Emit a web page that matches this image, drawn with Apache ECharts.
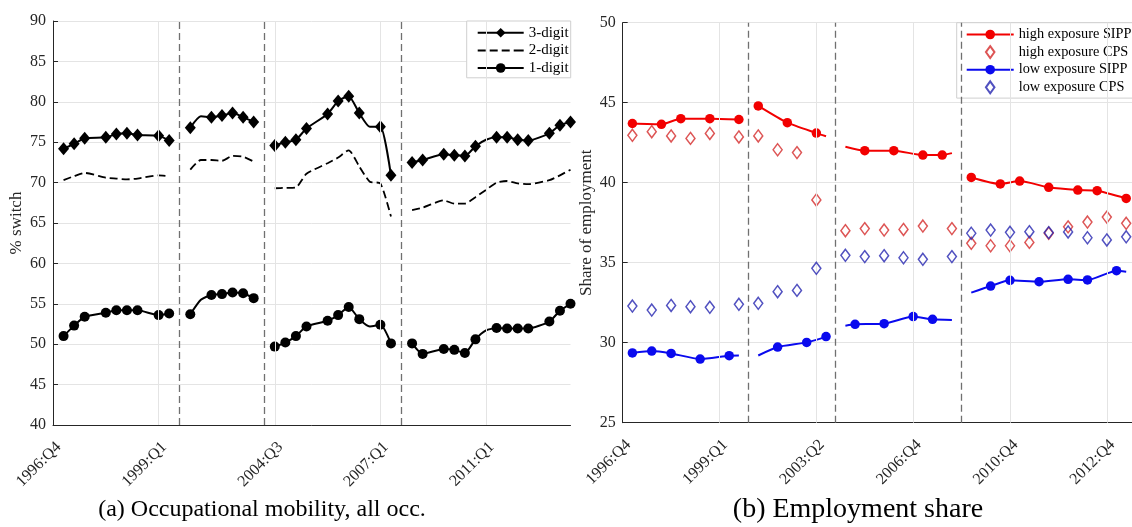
<!DOCTYPE html>
<html>
<head>
<meta charset="utf-8">
<script src="https://cdn.jsdelivr.net/npm/echarts@6/dist/echarts.min.js"></script>
<style>
  html, body { margin: 0; padding: 0; background: #ffffff; }
  #chart { width: 1132px; height: 527px; }
</style>
</head>
<body>
<div id="chart"></div>
<script>
// ---------- (a) Occupational mobility: x is the observation index ----------
const occTickPos = [0, 10, 21, 31, 41];
const occTickLabels = ['1996:Q4', '1999:Q1', '2004:Q3', '2007:Q1', '2011:Q1'];
const occPanelBreaks = [12, 20, 33];
const occUnmarked = [14, 30, 41];

const occX1 = [1, 2, 3, 5, 6, 7, 8, 10, 11];
const digit3P1 = [74.2, 74.8, 75.5, 75.6, 76.0, 76.1, 75.9, 75.8, 75.2];
const digit2P1 = [70.3, 70.8, 71.2, 70.6, 70.5, 70.4, 70.5, 70.9, 70.8];
const digit1P1 = [51.0, 52.3, 53.4, 53.9, 54.2, 54.2, 54.2, 53.6, 53.8];

const occX2 = [13, 14, 15, 16, 17, 18, 19];
const digit3P2 = [76.8, 78.2, 78.1, 78.3, 78.6, 78.1, 77.5];
const digit2P2 = [71.6, 72.8, 72.8, 72.7, 73.3, 73.2, 72.6];
const digit1P2 = [53.7, 55.5, 56.1, 56.2, 56.4, 56.3, 55.7];

const occX3 = [21, 22, 23, 24, 26, 27, 28, 29, 30, 31, 32];
const digit3P3 = [74.6, 75.0, 75.3, 76.7, 78.5, 80.1, 80.7, 78.6, 76.9, 76.9, 70.9];
const digit2P3 = [69.3, 69.35, 69.4, 71.1, 72.4, 73.1, 74.0, 72.0, 70.1, 69.9, 65.8];
const digit1P3 = [49.7, 50.2, 51.0, 52.2, 52.9, 53.6, 54.6, 53.1, 52.2, 52.4, 50.1];

const occX4 = [34, 35, 37, 38, 39, 40, 41, 42, 43, 44, 45, 47, 48, 49];
const digit3P4 = [72.5, 72.8, 73.5, 73.4, 73.3, 74.5, 75.3, 75.6, 75.6, 75.3, 75.2, 76.1, 77.1, 77.5];
const digit2P4 = [66.6, 66.9, 67.8, 67.4, 67.4, 68.2, 69.1, 70.0, 70.2, 69.9, 69.8, 70.3, 70.9, 71.6];
const digit1P4 = [50.1, 48.8, 49.4, 49.3, 48.9, 50.6, 51.7, 52.0, 51.95, 51.95, 51.95, 52.8, 54.15, 55.0];

// ---------- (b) Employment share ----------
const empTickPos = [0, 10, 20, 30, 40, 50];
const empTickLabels = ['1996:Q4', '1999:Q1', '2003:Q2', '2006:Q4', '2010:Q4', '2012:Q4'];
const empPanelBreaks = [13, 22, 35];

const highSippX = [[1, 4, 6, 9, 12], [14, 17, 20, 21], [23, 25, 28, 31, 33, 34], [36, 39, 41, 44, 47, 49, 52]];
const highSippY = [[43.7, 43.65, 44.0, 44.0, 43.95], [44.8, 43.75, 43.1, 42.9], [42.25, 42.0, 42.0, 41.73, 41.73, 41.85], [40.33, 39.92, 40.1, 39.71, 39.54, 39.5, 39.02]];
const highSippLineEnds = [21, 23, 34];

const lowSippX = [[1, 3, 5, 8, 11, 12], [14, 16, 19, 21], [23, 24, 27, 30, 32, 34], [36, 38, 40, 43, 46, 48, 51, 52]];
const lowSippY = [[29.36, 29.48, 29.33, 28.98, 29.19, 29.2], [29.2, 29.73, 30.02, 30.38], [31.06, 31.15, 31.19, 31.63, 31.46, 31.42], [33.13, 33.54, 33.9, 33.81, 33.96, 33.92, 34.5, 34.44]];
const lowSippLineEnds = [12, 14, 23, 34, 36, 52];

const cpsX = [1, 3, 5, 7, 9, 12, 14, 16, 18, 20, 23, 25, 27, 29, 31, 34, 36, 38, 40, 42, 44, 46, 48, 50, 52];
const highCps = [42.96, 43.19, 42.92, 42.77, 43.08, 42.86, 42.92, 42.06, 41.88, 38.92, 37.0, 37.13, 37.04, 37.08, 37.29, 37.13, 36.21, 36.06, 36.06, 36.27, 36.84, 37.24, 37.54, 37.85, 37.46];
const lowCps = [32.29, 32.04, 32.33, 32.25, 32.21, 32.4, 32.46, 33.19, 33.27, 34.65, 35.46, 35.38, 35.44, 35.31, 35.21, 35.38, 36.84, 37.04, 36.9, 36.94, 36.88, 36.92, 36.56, 36.42, 36.62];

const SERIF = "'Liberation Serif', 'Times New Roman', serif";
const AXIS_TEXT = '#262626';
const GRID_COLOR = '#e4e4e4';
const RED = '#f20000', RED_CPS = '#d42a2a', BLUE = '#0a0aee', BLUE_CPS = '#2626b0';

// legend glyphs
const DASH_ICON = 'path://M0,0h8v2h-8z M12,0h8v2h-8z M24,0h8v2h-8z M36,0h10v2h-10z';
const DIAMOND_ICON = 'path://M5,0L10,7L5,14L0,7Z';

function pairs(xs, ys, unmarked) {
  return xs.map((x, i) => unmarked.includes(x)
    ? { value: [x, ys[i]], symbol: 'none' }
    : [x, ys[i]]);
}

function lineSeries(name, gi, xs, ys, unmarked, look) {
  return {
    type: 'line', name, xAxisIndex: gi, yAxisIndex: gi,
    data: pairs(xs, ys, unmarked),
    symbol: look.symbol || 'none',
    symbolSize: look.size || 0,
    showAllSymbol: true,
    smooth: 0.2,
    lineStyle: { color: look.color, width: look.width || 2, type: look.dash || 'solid' },
    itemStyle: { color: look.color },
    silent: true, animation: false, z: 3
  };
}

function guideSeries(gi, xs, yMin, style) {
  return {
    type: 'line', xAxisIndex: gi, yAxisIndex: gi,
    data: [[0, yMin]], symbol: 'none', lineStyle: { opacity: 0 },
    silent: true, animation: false, z: style.z,
    markLine: {
      silent: true, animation: false, symbol: ['none', 'none'],
      label: { show: false },
      lineStyle: style.line,
      data: xs.map(v => ({ xAxis: v }))
    }
  };
}

const series = [];
// grid lines and panel breaks
series.push(guideSeries(0, occTickPos.slice(1), 40, { z: 1, line: { color: GRID_COLOR, width: 1, type: 'solid' } }));
series.push(guideSeries(0, occPanelBreaks, 40, { z: 2, line: { color: '#707070', width: 1.3, type: [7, 4] } }));
series.push(guideSeries(1, empTickPos.slice(1), 25, { z: 1, line: { color: GRID_COLOR, width: 1, type: 'solid' } }));
series.push(guideSeries(1, empPanelBreaks, 25, { z: 2, line: { color: '#707070', width: 1.3, type: [7, 4] } }));

// (a) lines, one piece per survey panel
const occPanels = [
  [occX1, digit3P1, digit2P1, digit1P1],
  [occX2, digit3P2, digit2P2, digit1P2],
  [occX3, digit3P3, digit2P3, digit1P3],
  [occX4, digit3P4, digit2P4, digit1P4]
];
occPanels.forEach(([xs, d3, d2, d1]) => {
  series.push(lineSeries('3-digit', 0, xs, d3, occUnmarked, { color: '#000', symbol: 'diamond', size: [11, 13], width: 2 }));
  series.push(lineSeries('2-digit', 0, xs, d2, [], { color: '#000', width: 1.8, dash: [8, 4] }));
  series.push(lineSeries('1-digit', 0, xs, d1, occUnmarked, { color: '#000', symbol: 'circle', size: 10, width: 2 }));
});

// (b) SIPP lines per panel, CPS points
highSippX.forEach((xs, p) => {
  series.push(lineSeries('high exposure SIPP', 1, xs, highSippY[p], highSippLineEnds, { color: RED, symbol: 'circle', size: 9.5, width: 2 }));
});
series.push({
  type: 'scatter', name: 'high exposure CPS', xAxisIndex: 1, yAxisIndex: 1,
  data: cpsX.map((x, i) => [x, highCps[i]]),
  symbol: 'diamond', symbolSize: [9, 12],
  itemStyle: { color: 'rgba(255,255,255,0)', borderColor: RED_CPS, borderWidth: 1.5 },
  silent: true, animation: false, z: 4
});
lowSippX.forEach((xs, p) => {
  series.push(lineSeries('low exposure SIPP', 1, xs, lowSippY[p], lowSippLineEnds, { color: BLUE, symbol: 'circle', size: 9.5, width: 2 }));
});
series.push({
  type: 'scatter', name: 'low exposure CPS', xAxisIndex: 1, yAxisIndex: 1,
  data: cpsX.map((x, i) => [x, lowCps[i]]),
  symbol: 'diamond', symbolSize: [9, 12],
  itemStyle: { color: 'rgba(255,255,255,0)', borderColor: BLUE_CPS, borderWidth: 1.5 },
  silent: true, animation: false, z: 5
});

function xAxisFor(gi, max, ticks, labels) {
  return {
    type: 'value', gridIndex: gi, min: 0, max,
    axisLine: { show: true, onZero: false, lineStyle: { color: AXIS_TEXT, width: 1 } },
    axisTick: { show: true, inside: true, length: 5, customValues: ticks, lineStyle: { color: AXIS_TEXT } },
    splitLine: { show: false },
    axisLabel: {
      customValues: ticks, rotate: 45, margin: 14, verticalAlign: 'top',
      fontFamily: SERIF, fontSize: 16, color: AXIS_TEXT,
      formatter: v => labels[ticks.indexOf(v)] || ''
    }
  };
}

function yAxisFor(gi, min, max, name) {
  return {
    type: 'value', gridIndex: gi, min, max, interval: 5,
    name, nameLocation: 'middle', nameGap: 28,
    nameTextStyle: { fontFamily: SERIF, fontSize: 17, color: AXIS_TEXT },
    axisLine: { show: true, lineStyle: { color: AXIS_TEXT, width: 1 } },
    axisTick: { show: true, inside: true, length: 5, lineStyle: { color: AXIS_TEXT } },
    splitLine: { show: true, lineStyle: { color: GRID_COLOR, width: 1 } },
    axisLabel: { margin: 7, fontFamily: SERIF, fontSize: 16, color: AXIS_TEXT }
  };
}

const option = {
  backgroundColor: '#ffffff',
  animation: false,
  grid: [
    { left: 53, top: 21, width: 517.5, height: 404 },
    { left: 622.7, top: 22.7, width: 509.3, height: 400 }
  ],
  xAxis: [
    xAxisFor(0, 49, occTickPos, occTickLabels),
    xAxisFor(1, 52.6, empTickPos, empTickLabels)
  ],
  yAxis: [
    yAxisFor(0, 40, 90, '% switch'),
    yAxisFor(1, 25, 50, 'Share of employment')
  ],
  legend: [
    {
      data: ['3-digit', { name: '2-digit', icon: DASH_ICON }, '1-digit'],
      orient: 'vertical', left: 466.7, top: 21,
      itemWidth: 46, itemHeight: 12, itemGap: 0, symbolKeepAspect: true,
      padding: [3, 2, 1, 10],
      backgroundColor: '#ffffff', borderColor: '#cfcfcf', borderWidth: 1,
      textStyle: { fontFamily: SERIF, fontSize: 15, color: '#000', lineHeight: 17.6 },
      selectedMode: false
    },
    {
      data: [
        'high exposure SIPP',
        { name: 'high exposure CPS', icon: DIAMOND_ICON },
        'low exposure SIPP',
        { name: 'low exposure CPS', icon: DIAMOND_ICON }
      ],
      orient: 'vertical', left: 956.7, top: 22.7,
      itemWidth: 47, itemHeight: 12, itemGap: 0, symbolKeepAspect: true,
      padding: [3, 1, 2, 9],
      backgroundColor: '#ffffff', borderColor: '#cfcfcf', borderWidth: 1,
      textStyle: { fontFamily: SERIF, fontSize: 14.3, color: '#000', lineHeight: 17.6 },
      selectedMode: false
    }
  ],
  graphic: [
    { type: 'text', x: 262, y: 510, silent: true,
      style: { text: '(a) Occupational mobility, all occ.', font: '24px ' + SERIF, fill: '#000', align: 'center', verticalAlign: 'middle' } },
    { type: 'text', x: 858, y: 510, silent: true,
      style: { text: '(b) Employment share', font: '28px ' + SERIF, fill: '#000', align: 'center', verticalAlign: 'middle' } }
  ],
  series
};

const chart = echarts.init(document.getElementById('chart'), null, { renderer: 'canvas' });
chart.setOption(option);
</script>
</body>
</html>
